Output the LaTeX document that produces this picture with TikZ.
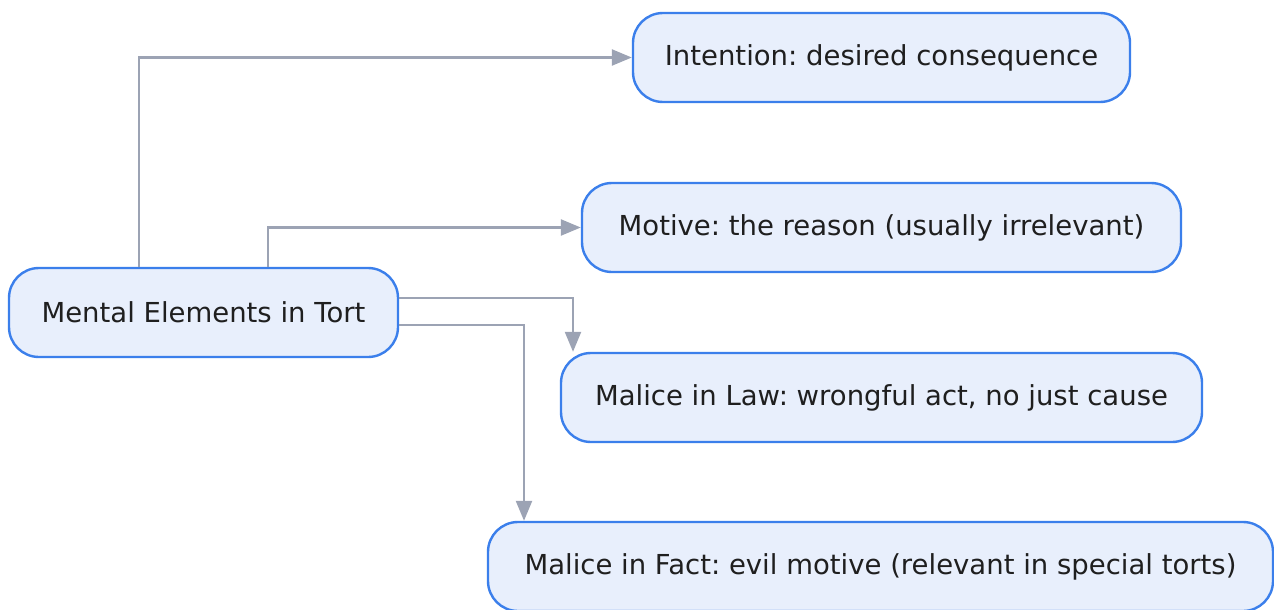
\documentclass[tikz,border=0pt]{standalone}
\usepackage{fontspec}
\setmainfont{DejaVu Sans}
\usetikzlibrary{arrows.meta,positioning}
\definecolor{nodeblue}{HTML}{3B7FEB}
\definecolor{nodefill}{HTML}{E8EFFC}
\definecolor{edgegray}{HTML}{9CA3B4}
\definecolor{textdark}{HTML}{1F1F1F}

\tikzset{
  idea/.style={draw=nodeblue,fill=nodefill,line width=2.4pt,rounded corners=30pt,
    minimum height=89pt,inner xsep=0pt,text=textdark,font=\fontsize{27.5}{32}\selectfont\frenchspacing},
  link/.style={edgegray,line width=2.4pt,-{Triangle[length=20pt,width=16pt]}}
}

\begin{document}
\begin{tikzpicture}[x=1pt,y=-1pt]
  \useasboundingbox (0,0) rectangle (1274,610);
  \node[idea,minimum width=389pt] (root) at (203.5,312.5) {Mental Elements in Tort};
  \node[idea,minimum width=497pt] (intent) at (881.5,57.5) {Intention: desired consequence};
  \node[idea,minimum width=599pt] (motive) at (881.5,227.5) {Motive: the reason (usually irrelevant)};
  \node[idea,minimum width=641pt] (mlaw) at (881.5,397.5) {Malice in Law: wrongful act, no just cause};
  \node[idea,minimum width=785pt] (mfact) at (880.5,566.5) {Malice in Fact: evil motive (relevant in special torts)};
  % connectors
  \draw[link] (root.north -| 139,0) |- (intent.west);
  \draw[link] (root.north -| 268,0) |- (motive.west);
  \draw[link] (root.east |- 0,298) -| (mlaw.north -| 573,0);
  \draw[link] (root.east |- 0,325) -| (mfact.north -| 524,0);
\end{tikzpicture}
\end{document}
